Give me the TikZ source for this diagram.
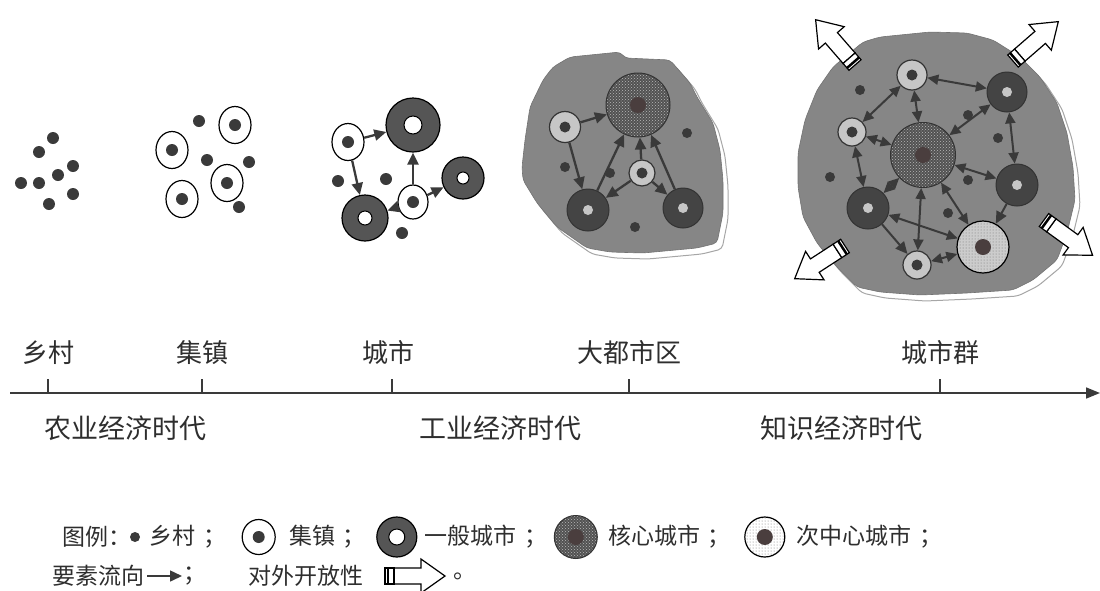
\documentclass[tikz,border=0pt]{standalone}
\usepackage{fontspec}
\setmainfont{Noto Sans CJK SC}
\usepackage{tikz}
\usetikzlibrary{positioning}
\usetikzlibrary{arrows.meta}
\usetikzlibrary{patterns}
\usetikzlibrary{shapes.geometric}
\definecolor{inkc}{HTML}{3A3A3A}
\definecolor{cityc}{HTML}{555555}
\definecolor{blobc}{HTML}{868686}
\definecolor{palec}{HTML}{C6C6C6}
\definecolor{centc}{HTML}{4A3E3E}
\definecolor{txtc}{HTML}{2E2E2E}
\tikzset{
    openarrow/.pic={
        \draw[fill=white, line width=1.2pt] (9,-8) -- (36,-8) -- (36,-17) -- (60,0) -- (36,17) -- (36,8) -- (9,8) -- cycle;
        \draw[fill=white, line width=1.2pt] (0,-8) rectangle (9,8);
        \draw[line width=2.5pt] (3,-8) -- (3,8);
    }
}

\begin{document}
\begin{tikzpicture}[x=1pt, y=-1pt,
        every node/.style={text=txtc},
        vil/.style={circle, fill=inkc, inner sep=0pt, minimum size=#1},
        vil/.default=12pt,
        town/.style={ellipse, draw=black, line width=1.2pt, fill=white, inner sep=0pt, minimum width=32pt, minimum height=37pt,
            path picture={\fill[inkc] (path picture bounding box.center) circle (6pt);}},
        city/.style 2 args={circle, draw=black, line width=1.2pt, fill=cityc, inner sep=0pt, minimum size=#1,
            path picture={\draw[line width=1pt, fill=white] (path picture bounding box.center) circle (#2);}},
        metro/.style={circle, draw=black!80, line width=1pt, fill=cityc!80!black, inner sep=0pt, minimum size=#1,
            path picture={\fill[palec] (path picture bounding box.center) circle (5pt);}},
        pale/.style={circle, draw=black!80, line width=1.2pt, fill=palec, inner sep=0pt, minimum size=#1,
            path picture={\fill[inkc] (path picture bounding box.center) circle (5.5pt);}},
        core/.style={circle, draw=black!80, line width=1pt, fill=black!68, inner sep=0pt, minimum size=#1,
            path picture={
                \fill[pattern=crosshatch dots, pattern color=gray!55] (path picture bounding box.south west) rectangle (path picture bounding box.north east);
                \fill[centc] (path picture bounding box.center) circle (8pt);}},
        sub/.style 2 args={circle, draw=black, line width=1.2pt, fill=#2, inner sep=0pt, minimum size=#1,
            path picture={
                \fill[pattern=dots, pattern color=black!55] (path picture bounding box.south west) rectangle (path picture bounding box.north east);
                \fill[centc] (path picture bounding box.center) circle (8pt);}},
        flow/.style={draw=inkc, line width=2.3pt, -{Triangle[length=12pt, width=11pt]}},
        bflow/.style={flow, line width=2pt, {Triangle[length=11pt, width=10pt]}-{Triangle[length=11pt, width=10pt]}},
        blob/.style={fill=blobc, draw=blobc!85!black, line width=0.6pt, rounded corners=4pt,
            preaction={fill=white, draw=black!35, line width=1pt, transform canvas={shift={(5pt,-6pt)}}}},
        timeaxis/.style={draw=inkc, line width=1.6pt, -{Triangle[length=14pt, width=11pt]}},
        tickmark/.style={draw=inkc, line width=1.2pt},
        stagetext/.style={font=\fontsize{26}{26}\selectfont, inner sep=0pt},
        era/.style={font=\fontsize{27}{27}\selectfont, inner sep=0pt},
        lgd/.style={font=\fontsize{23}{23}\selectfont, inner sep=0pt, anchor=west},
    ]

    \useasboundingbox (0,0) rectangle (1100,590);

    % villages
    \node[vil] (a1) at (53,138) {};
    \node[vil] (a2) at (39,152) {};
    \node[vil] (a3) at (73,166) {};
    \node[vil] (a4) at (58,175) {};
    \node[vil] (a5) at (21,183) {};
    \node[vil] (a6) at (39,183) {};
    \node[vil] (a7) at (73,194) {};
    \node[vil] (a8) at (49,204) {};

    % towns
    \node[vil] (b1) at (199,121) {};
    \node[vil] (b2) at (207,160) {};
    \node[vil] (b3) at (249,162) {};
    \node[vil] (b4) at (239,207) {};
    \node[town] (bT1) at (235,125) {};
    \node[town] (bT2) at (172,150) {};
    \node[town] (bT3) at (227,183) {};
    \node[town] (bT4) at (182,199) {};

    % cities
    \node[vil] (c1) at (338,181) {};
    \node[vil] (c2) at (386,179) {};
    \node[vil] (c3) at (402,233) {};
    \node[town] (cA) at (348,142) {};
    \node[town, minimum width=30pt, minimum height=34pt] (cB) at (413,202) {};
    \node[city={54pt}{9pt}] (cC) at (413,125) {};
    \node[city={42pt}{6pt}] (cD) at (463,178) {};
    \node[city={46pt}{7pt}] (cE) at (365,218) {};

    \draw[flow] (cA) -- (cC);
    \draw[flow] (cA) -- (cE);
    \draw[flow] (cB) -- (cC);
    \draw[flow] (cB) -- (cD);
    \draw[flow] (cB) -- (cE);

    % metropolitan area
    \draw[blob] (570,57) -- (620,52) -- (625,58) -- (670,60) -- (690,83) -- (697,97) -- (713,123)
        -- (720,150) -- (723,180) -- (723,213) -- (717,243) -- (697,248) -- (643,253) -- (610,252)
        -- (587,248) -- (557,227) -- (537,203) -- (523,180) -- (522,167) -- (525,140) -- (530,107)
        -- (543,80) -- (553,67) -- cycle;

    \node[vil=10pt] (m1) at (565,167) {};
    \node[vil=10pt] (m2) at (610,173) {};
    \node[vil=10pt] (m3) at (687,133) {};
    \node[vil=10pt] (m4) at (635,227) {};
    \node[core=64pt] (mK) at (638,105) {};
    \node[pale=31pt] (mT1) at (565,127) {};
    \node[pale=26pt] (mT2) at (642,173) {};
    \node[metro=42pt] (mC1) at (588,210) {};
    \node[metro=40pt] (mC2) at (683,208) {};

    \draw[flow] (mT1) -- (mK);
    \draw[flow] (mT1) -- (mC1);
    \draw[flow] (mC1) -- (mK);
    \draw[flow] (mT2) -- (mK);
    \draw[flow] (mC2) -- (mK);
    \draw[flow] (mT2) -- (mC1);
    \draw[flow] (mT2) -- (mC2);

    % city cluster
    \draw[blob] (833,67) -- (863,42) -- (880,37) -- (930,32) -- (967,33) -- (993,40) -- (1020,57)
        -- (1040,77) -- (1057,103) -- (1067,133) -- (1073,167) -- (1075,200) -- (1067,233)
        -- (1057,260) -- (1033,280) -- (1013,290) -- (967,293) -- (920,295) -- (880,292)
        -- (857,287) -- (837,267) -- (817,243) -- (803,217) -- (798,187) -- (798,153)
        -- (805,120) -- (817,90) -- cycle;

    \pic[rotate=131] at (855,65) {openarrow};
    \pic[rotate=41] at (1013,61) {openarrow};
    \pic[rotate=213] at (845,246) {openarrow};
    \pic[rotate=-36] at (1044,220) {openarrow};

    \node[vil=10pt] (g1) at (860,90) {};
    \node[vil=10pt] (g2) at (968,115) {};
    \node[vil=10pt] (g3) at (998,138) {};
    \node[vil=10pt] (g4) at (830,177) {};
    \node[vil=10pt] (g5) at (968,180) {};
    \node[vil=10pt] (g6) at (948,213) {};
    \node[core=65pt] (gK) at (923,155) {};
    \node[pale=30pt] (gU1) at (912,75) {};
    \node[pale=28pt] (gU2) at (852,132) {};
    \node[pale=28pt] (gU3) at (917,265) {};
    \node[metro=40pt] (gV1) at (1007,92) {};
    \node[metro=42pt] (gV2) at (1017,185) {};
    \node[metro=42pt] (gV3) at (868,208) {};
    \node[sub={52pt}{palec!90!white}] (gS) at (983,247) {};

    \draw[bflow] (gU1) -- (gV1);
    \draw[bflow] (gU1) -- (gU2);
    \draw[bflow] (gU1) -- (gK);
    \draw[bflow] (gU2) -- (gK);
    \draw[bflow] (gU2) -- (gV3);
    \draw[bflow] (gK) -- (gV1);
    \draw[bflow] (gV1) -- (gV2);
    \draw[bflow] (gK) -- (gV2);
    \draw[bflow] (gV3) -- (gK);
    \draw[bflow] (gK) -- (gU3);
    \draw[bflow] (gV3) -- (gS);
    \draw[flow, line width=2pt] (gV3) -- (gU3);
    \draw[bflow] (gU3) -- (gS);
    \draw[bflow] (gK) -- (gS);
    \draw[flow, line width=2pt] (gV2) -- (gS);

    % time line
    \coordinate (ax0) at (10,393);
    \coordinate (ax1) at (1100,393);
    \draw[timeaxis] (ax0) -- (ax1);

    \coordinate (ta1) at (48,393);   \coordinate (tb1) at (48,379);
    \coordinate (ta2) at (202,393);  \coordinate (tb2) at (202,379);
    \coordinate (ta3) at (392,393);  \coordinate (tb3) at (392,379);
    \coordinate (ta4) at (629,393);  \coordinate (tb4) at (629,379);
    \coordinate (ta5) at (940,393);  \coordinate (tb5) at (940,379);
    \draw[tickmark] (ta1) -- (tb1);
    \draw[tickmark] (ta2) -- (tb2);
    \draw[tickmark] (ta3) -- (tb3);
    \draw[tickmark] (ta4) -- (tb4);
    \draw[tickmark] (ta5) -- (tb5);

    \node[stagetext] (s1) [above=14pt of tb1] {乡村};
    \node[stagetext] (s2) [above=14pt of tb2] {集镇};
    \node[stagetext] (s3) [above=14pt of tb3, xshift=-4pt] {城市};
    \node[stagetext] (s4) [above=14pt of tb4] {大都市区};
    \node[stagetext] (s5) [above=14pt of tb5] {城市群};

    \node[era] (e1) at (125,428) {农业经济时代};
    \node[era] (e2) at (500,428) {工业经济时代};
    \node[era] (e3) at (841,428) {知识经济时代};

    % legend
    \node[lgd] (k0) at (62,537) {图例：};
    \node[vil=10pt] (k1) at (135,537) {};
    \node[lgd] (k2) [right=9pt of k1] {乡村\hspace{8pt}；};
    \node[town, minimum width=33pt, minimum height=35pt] (k3) [right=15pt of k2] {};
    \node[lgd] (k4) [right=13pt of k3] {集镇\hspace{8pt}；};
    \node[city={40pt}{8pt}] (k5) [right=10pt of k4] {};
    \node[lgd] (k6) [right=7pt of k5] {一般城市\hspace{8pt}；};
    \node[core=43pt] (k7) [right=6pt of k6] {};
    \node[lgd] (k8) [right=10pt of k7] {核心城市\hspace{8pt}；};
    \node[sub={40pt}{white}] (k9) [right=13pt of k8] {};
    \node[lgd] (k10) [right=11pt of k9] {次中心城市\hspace{8pt}；};

    \node[lgd] (n0) at (52,576) {要素流向};
    \coordinate (n1) at (147,576);
    \coordinate (n2) at (182,576);
    \draw[flow, line width=1.5pt] (n1) -- (n2);
    \node[lgd] (n3) [right=1pt of n2] {；};
    \node[lgd] (n4) at (248,576) {对外开放性};
    \pic at (385,576) {openarrow};
    \node[lgd] (n5) at (453,576) {。};

\end{tikzpicture}
\end{document}
